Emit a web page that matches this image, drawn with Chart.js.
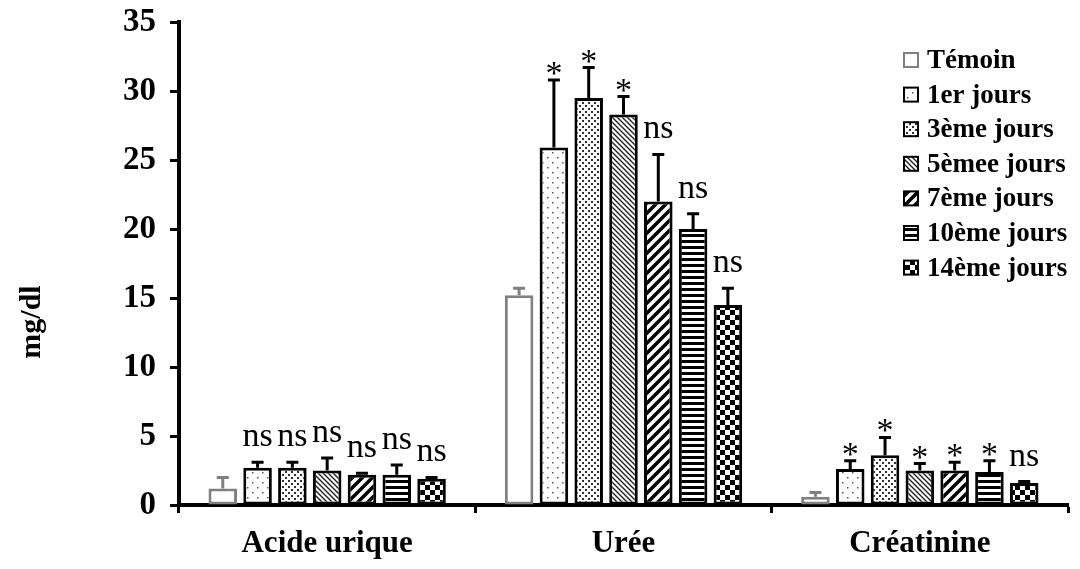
<!DOCTYPE html>
<html>
<head>
<meta charset="utf-8">
<script src="https://cdn.jsdelivr.net/npm/chart.js@4"></script>
<style>
  body { margin: 0; background: #fff; }
  canvas { display: block; }
</style>
</head>
<body>
<canvas id="chart" width="1080" height="569"></canvas>
<script>
const categories = ['Acide urique', 'Urée', 'Créatinine'];
const seriesNames = ['Témoin', '1er jours', '3ème jours', '5èmee jours', '7ème jours', '10ème jours', '14ème jours'];
const yTicks = [0, 5, 10, 15, 20, 25, 30, 35];

// mean values per group
const temoin = [1.2, 15.2, 0.6];
const jour1 = [2.7, 25.9, 2.6];
const jour3 = [2.7, 29.5, 3.6];
const jour5 = [2.5, 28.3, 2.5];
const jour7 = [2.2, 22.0, 2.5];
const jour10 = [2.2, 20.0, 2.4];
const jour14 = [1.9, 14.5, 1.6];

// error bars (upper only)
const temoinErr = [0.8, 0.5, 0.3];
const jour1Err = [0.4, 4.9, 0.6];
const jour3Err = [0.4, 2.2, 1.3];
const jour5Err = [0.9, 1.3, 0.5];
const jour7Err = [0.1, 3.4, 0.6];
const jour10Err = [0.7, 1.1, 0.8];
const jour14Err = [0.1, 1.2, 0.1];

// significance marks
const temoinSig = ['', '', ''];
const jour1Sig = ['ns', '*', '*'];
const jour3Sig = ['ns', '*', '*'];
const jour5Sig = ['ns', '*', '*'];
const jour7Sig = ['ns', 'ns', '*'];
const jour10Sig = ['ns', 'ns', '*'];
const jour14Sig = ['ns', 'ns', 'ns'];

const values = [temoin, jour1, jour3, jour5, jour7, jour10, jour14];
const errors = [temoinErr, jour1Err, jour3Err, jour5Err, jour7Err, jour10Err, jour14Err];
const sigs = [temoinSig, jour1Sig, jour3Sig, jour5Sig, jour7Sig, jour10Sig, jour14Sig];

const SERIF = "'Liberation Serif', 'Times New Roman', serif";

function makePattern(kind) {
    const c = document.createElement('canvas');
    const g = c.getContext('2d');
    let s = 6;
    if (kind === 'sparseDots') s = 10;
    if (kind === 'thickDiag') s = 10;
    if (kind === 'checker') s = 10;
    if (kind === 'thinDiag') s = 5;
    c.width = s; c.height = s;
    g.fillStyle = '#fff';
    g.fillRect(0, 0, s, s);
    switch (kind) {
        case 'sparseDots':
            g.fillStyle = '#555';
            g.fillRect(2, 2, 1.5, 1.5);
            g.fillRect(7, 7, 1.5, 1.5);
            break;
        case 'denseDots':
            g.fillStyle = '#333';
            g.fillRect(0, 0, 2, 2);
            g.fillRect(3, 3, 2, 2);
            break;
        case 'thinDiag':
            g.strokeStyle = '#222';
            g.lineWidth = 1.4;
            g.beginPath();
            g.moveTo(0, 0); g.lineTo(s, s);
            g.moveTo(-1, s - 1); g.lineTo(1, s + 1);
            g.moveTo(s - 1, -1); g.lineTo(s + 1, 1);
            g.stroke();
            break;
        case 'thickDiag':
            g.strokeStyle = '#000';
            g.lineWidth = 3.5;
            g.beginPath();
            g.moveTo(0, s); g.lineTo(s, 0);
            g.moveTo(-2, 2); g.lineTo(2, -2);
            g.moveTo(s - 2, s + 2); g.lineTo(s + 2, s - 2);
            g.stroke();
            break;
        case 'hStripes':
            g.fillStyle = '#000';
            g.fillRect(0, 0, s, 3);
            break;
        case 'checker':
            g.fillStyle = '#000';
            g.fillRect(0, 0, 5, 5);
            g.fillRect(5, 5, 5, 5);
            break;
    }
    return g.createPattern(c, 'repeat');
}

const fills = ['#fff', makePattern('sparseDots'), makePattern('denseDots'), makePattern('thinDiag'),
    makePattern('thickDiag'), makePattern('hStripes'), makePattern('checker')];
const borders = ['#808080', '#000', '#000', '#000', '#000', '#000', '#000'];

// error bars + significance text
const errorBarsPlugin = {
    id: 'errorBars',
    afterDatasetsDraw(chart) {
        const ctx = chart.ctx;
        const yScale = chart.scales.y;
        chart.data.datasets.forEach((ds, di) => {
            const meta = chart.getDatasetMeta(di);
            meta.data.forEach((bar, i) => {
                const top = yScale.getPixelForValue(ds.data[i] + ds.errors[i]);
                ctx.save();
                ctx.strokeStyle = borders[di];
                ctx.lineWidth = 3;
                ctx.beginPath();
                ctx.moveTo(bar.x, bar.y);
                ctx.lineTo(bar.x, top);
                ctx.moveTo(bar.x - 6, top);
                ctx.lineTo(bar.x + 6, top);
                ctx.stroke();

                const mark = ds.sigs[i];
                if (mark) {
                    ctx.fillStyle = '#000';
                    ctx.font = '34px ' + SERIF;
                    ctx.textAlign = 'center';
                    ctx.textBaseline = 'alphabetic';
                    ctx.fillText(mark, bar.x, mark === '*' ? top + 4 : top - 16);
                }
                ctx.restore();
            });
        });
    }
};

// legend drawn inside the plot, top right
const legendPlugin = {
    id: 'boxLegend',
    afterDraw(chart) {
        const ctx = chart.ctx;
        ctx.save();
        ctx.font = 'bold 27px ' + SERIF;
        ctx.textBaseline = 'middle';
        ctx.textAlign = 'left';
        seriesNames.forEach((name, i) => {
            const y = 60 + i * 34.6;
            ctx.fillStyle = fills[i];
            ctx.fillRect(904, y - 7, 14, 14);
            ctx.strokeStyle = borders[i];
            ctx.lineWidth = 2;
            ctx.strokeRect(904, y - 7, 14, 14);
            ctx.fillStyle = '#000';
            ctx.fillText(name, 927, y + 1);
        });
        ctx.restore();
    }
};

const axisTitlePlugin = {
    id: 'axisTitle',
    afterDraw(chart) {
        const ctx = chart.ctx;
        ctx.save();
        ctx.translate(32, 322);
        ctx.rotate(-Math.PI / 2);
        ctx.font = 'bold 30px ' + SERIF;
        ctx.fillStyle = '#000';
        ctx.textAlign = 'center';
        ctx.textBaseline = 'middle';
        ctx.fillText('mg/dl', 0, 0);
        ctx.restore();
    }
};

Chart.defaults.color = '#000';

new Chart(document.getElementById('chart'), {
    type: 'bar',
    data: {
        labels: categories,
        datasets: seriesNames.map((name, i) => ({
            label: name,
            data: values[i],
            errors: errors[i],
            sigs: sigs[i],
            backgroundColor: fills[i],
            borderColor: borders[i],
            borderWidth: 3,
            borderSkipped: false,
            categoryPercentage: 0.822,
            barPercentage: 0.82
        }))
    },
    options: {
        responsive: false,
        animation: false,
        layout: { padding: { left: 0, top: 22, right: 12, bottom: 0 } },
        plugins: {
            legend: { display: false },
            tooltip: { enabled: false }
        },
        scales: {
            x: {
                afterFit: (scale) => { scale.height = 64; },
                grid: {
                    offset: true,
                    drawOnChartArea: false,
                    tickLength: 8,
                    tickWidth: 3,
                    tickColor: '#000'
                },
                border: { color: '#000', width: 4 },
                ticks: {
                    padding: 12,
                    font: { family: SERIF, size: 31, weight: 'bold' }
                }
            },
            y: {
                min: 0,
                max: 35,
                afterFit: (scale) => {
                    scale.width = 179;
                    scale.paddingTop = 0;
                    scale.paddingBottom = 0;
                },
                afterBuildTicks: (scale) => { scale.ticks = yTicks.map(v => ({ value: v })); },
                grid: {
                    drawOnChartArea: false,
                    tickLength: 9,
                    tickWidth: 3,
                    tickColor: '#000'
                },
                border: { color: '#000', width: 4 },
                ticks: {
                    padding: 14,
                    font: { family: SERIF, size: 33, weight: 'bold' }
                }
            }
        }
    },
    plugins: [errorBarsPlugin, legendPlugin, axisTitlePlugin]
});
</script>
</body>
</html>
